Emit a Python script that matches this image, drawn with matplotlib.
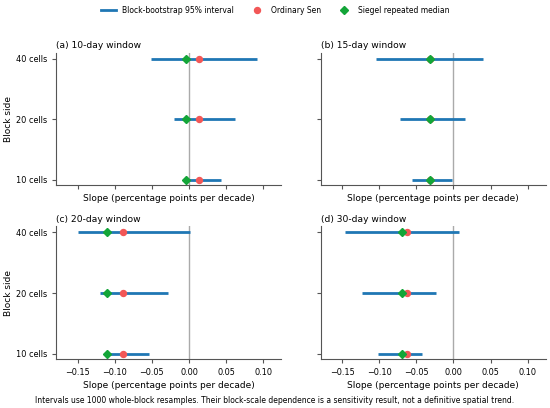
import matplotlib.pyplot as plt
from matplotlib.lines import Line2D

# block sizes (categorical y positions)
blocks = ["10 cells", "20 cells", "40 cells"]
windows = ["(a) 10-day window", "(b) 15-day window",
           "(c) 20-day window", "(d) 30-day window"]

# bootstrap 95% interval bounds, per window, ordered 10/20/40 cells
ci_low = [
    [-0.007, -0.0205, -0.0512],
    [-0.0565, -0.072, -0.1045],
    [-0.113, -0.1193, -0.150],
    [-0.1019, -0.1232, -0.1455],
]
ci_high = [
    [0.0427, 0.0619, 0.0917],
    [-0.0022, 0.016, 0.040],
    [-0.0534, -0.028, 0.0018],
    [-0.0427, -0.0231, 0.008],
]
sen = [0.0129, -0.031, -0.0886, -0.0632]
siegel = [-0.0036, -0.031, -0.1104, -0.0694]

c_ci = "#1f77b4"
c_sen = "#f25757"
c_sieg = "#13a538"

fig, axes = plt.subplots(2, 2, figsize=(5.5, 4.08), dpi=100, sharex=True, sharey=True)
fig.subplots_adjust(left=0.102, right=0.992, top=0.871, bottom=0.12, wspace=0.175, hspace=0.31)

ypos = list(range(len(blocks)))
for k, ax in enumerate(axes.flat):
    ax.axvline(0, color="#aaaaaa", lw=1.0, zorder=1)
    ax.hlines(ypos, ci_low[k], ci_high[k], color=c_ci, lw=2.0, zorder=2)
    ax.plot([sen[k]] * 3, ypos, "o", color=c_sen, ms=4.3, zorder=3)
    ax.plot([siegel[k]] * 3, ypos, "D", color=c_sieg, ms=4.3, zorder=4)
    ax.set_title(windows[k], fontsize=6.6, loc="left", pad=3)
    ax.set_xlabel("Slope (percentage points per decade)", fontsize=6.5, labelpad=3)
    ax.spines["top"].set_visible(False)
    ax.spines["right"].set_visible(False)
    for s in ("left", "bottom"):
        ax.spines[s].set_color("#555555")
    ax.tick_params(labelsize=5.9, length=3, color="#555555")
    ax.xaxis.set_tick_params(labelbottom=(k >= 2))

ax0 = axes[0, 0]
ax0.set_xlim(-0.179, 0.124)
ax0.set_xticks([-0.15, -0.10, -0.05, 0.00, 0.05, 0.10])
ax0.set_ylim(-0.09, 2.1)
ax0.set_yticks(ypos)
ax0.set_yticklabels(blocks)
for ax in axes[:, 0]:
    ax.set_ylabel("Block side", fontsize=6.5, labelpad=2)

handles = [
    Line2D([], [], color=c_ci, lw=2.0, label="Block-bootstrap 95% interval"),
    Line2D([], [], marker="o", ls="", color=c_sen, ms=4.3, label="Ordinary Sen"),
    Line2D([], [], marker="D", ls="", color=c_sieg, ms=4.3, label="Siegel repeated median"),
]
fig.legend(handles=handles, loc="center", ncol=3, frameon=False,
           fontsize=5.5, bbox_to_anchor=(0.5, 0.975), columnspacing=2.0,
           handlelength=2.0)

fig.text(0.5, 0.018, "Intervals use 1000 whole-block resamples. Their block-scale dependence "
         "is a sensitivity result, not a definitive spatial trend.",
         ha="center", va="center", fontsize=5.5)

plt.savefig("out.png")
